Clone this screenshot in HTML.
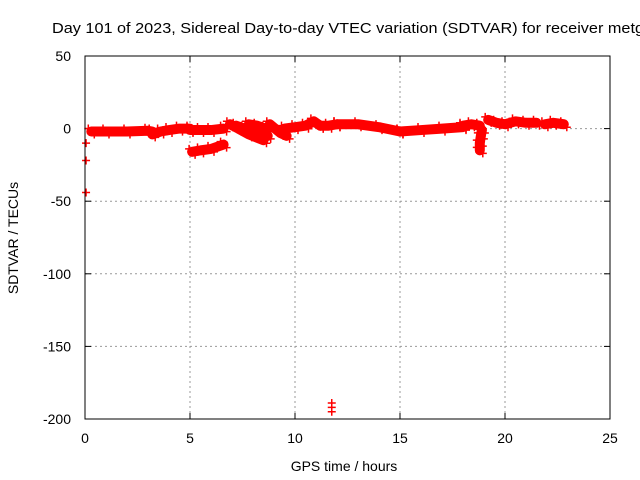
<!DOCTYPE html>
<html><head><meta charset="utf-8"><style>
body{margin:0;background:#fff;overflow:hidden}
svg{display:block;font-family:"Liberation Sans",sans-serif}
</style></head><body>
<svg id="c" width="640" height="480">
<text x="52" y="33" font-size="15" textLength="592" lengthAdjust="spacingAndGlyphs">Day 101 of 2023, Sidereal Day-to-day VTEC variation (SDTVAR) for receiver metg</text>
<text x="344" y="471" font-size="14" text-anchor="middle">GPS time / hours</text>
<text transform="translate(18,238) rotate(-90)" font-size="14" text-anchor="middle">SDTVAR / TECUs</text>
<g id="grid"></g><g id="ticks"></g><g id="marks"></g>
<rect x="85" y="56" width="525" height="363" fill="none" stroke="#000" stroke-width="1"/>
</svg>
<script>
const xTicks=[0,5,10,15,20,25];
const yTicks=[50,0,-50,-100,-150,-200];
const arcs=[
 [[0.3,-2],[1,-2],[2,-2],[3,-1.5],[3.2,-2]],
 [[3.2,-4],[3.6,-2],[4,-1],[4.5,0],[5,0]],
 [[5,-1],[5.5,-1],[6,-1],[6.6,0]],
 [[5.1,-16],[5.5,-15],[6,-14],[6.6,-11]],
 [[6.9,3],[7.3,0],[7.8,-4],[8.5,-8]],
 [[7.2,2],[7.6,0],[8.1,-3],[8.7,-5]],
 [[7.8,3],[8.2,2],[8.6,0]],
 [[8.8,3],[9.3,-3],[9.6,-5]],
 [[9.5,0],[10,1],[10.5,2],[10.9,5],[11.2,2]],
 [[11.2,2],[11.6,2],[12,3]],
 [[12,3],[13,3],[14,1],[15,-2]],
 [[15,-2],[16,-1],[17,0],[18,1]],
 [[18,2],[18.4,3],[18.8,2]],
 [[18.9,-1],[18.85,-5],[18.8,-10],[18.8,-15]],
 [[19.2,6],[19.6,4],[20,3],[20.5,5],[21,4],[21.5,4]],
 [[21.9,3],[22.3,4],[22.8,3]]
];
const outX=[0.05,0.05,0.05,11.75,11.75,11.75];
const outY=[-10,-22,-44,-189,-192,-195];
const X=h=>85+21*h, Y=v=>128.6-1.452*v;
const NS="http://www.w3.org/2000/svg";
const g=document.getElementById('grid'),t=document.getElementById('ticks'),m=document.getElementById('marks');
function mk(tag,at,par){const e=document.createElementNS(NS,tag);for(const k in at)e.setAttribute(k,at[k]);par.appendChild(e);return e;}
xTicks.forEach(v=>{const x=X(v);
 if(v>0&&v<25){const l=mk('line',{x1:x,x2:x,y1:56,y2:419,stroke:'#999','stroke-dasharray':'2,3'},g);
 
 }
 const s=mk('text',{x:x,y:443,'font-size':14,'text-anchor':'middle'},t);s.textContent=v;
 
 
 mk('line',{x1:x,x2:x,y1:419,y2:413,stroke:'#000'},t);mk('line',{x1:x,x2:x,y1:56,y2:62,stroke:'#000'},t);});
yTicks.forEach(v=>{const y=Y(v);
 if(v<50&&v>-200){const l=mk('line',{x1:85,x2:610,y1:y,y2:y,stroke:'#999','stroke-dasharray':'2,3'},g);
 
 }
 const s=mk('text',{x:71,y:y+5,'font-size':14,'text-anchor':'end'},t);s.textContent=v;
 
 
 mk('line',{x1:85,x2:91,y1:y,y2:y,stroke:'#000'},t);mk('line',{x1:610,x2:604,y1:y,y2:y,stroke:'#000'},t);});
function plus(x,y){const p=mk('path',{d:`M${x-4},${y}h8M${x},${y-4}v8`,stroke:'#f00','stroke-width':1.5},m);
 
 }
arcs.forEach(a=>{const pl=mk('polyline',{points:a.map(p=>X(p[0])+','+Y(p[1])).join(' '),fill:'none',stroke:'#f00','stroke-width':10,'stroke-linejoin':'round','stroke-linecap':'round'},m);
 
 
 a.forEach(p=>{plus(X(p[0])-3,Y(p[1])-3);plus(X(p[0])+3,Y(p[1])+3);});});
outX.forEach((h,i)=>plus(X(h),Y(outY[i])));
</script>
</body></html>
